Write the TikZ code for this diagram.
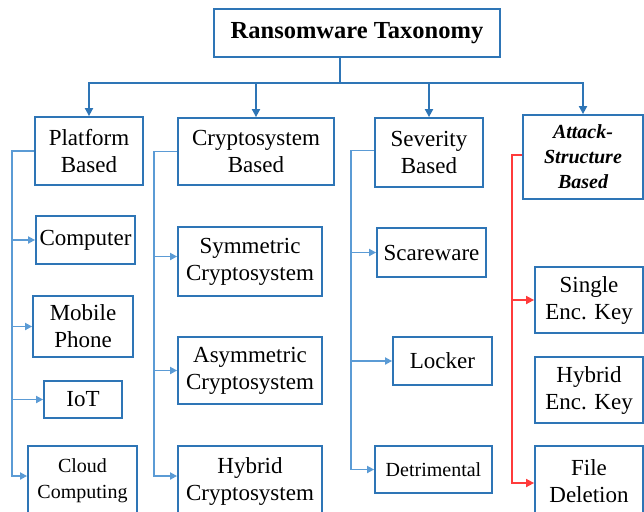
\documentclass[tikz,border=0pt]{standalone}
\usepackage{fontspec}
\setmainfont{Liberation Serif}
\usepackage{xcolor}
\usetikzlibrary{arrows.meta, calc}
\definecolor{boxblue}{HTML}{2E75B6}
\definecolor{lineblue}{HTML}{5B9BD5}
\definecolor{linered}{HTML}{FF3B3B}
\tikzset{
    tbox/.style={draw=boxblue, line width=1.8pt, fill=white, inner sep=0pt, align=center, font=\fontsize{23}{27}\selectfont},
    smalltext/.style={font=\fontsize{20}{26}\selectfont},
    topline/.style={draw=boxblue, line width=1.8pt},
    toparrow/.style={topline, -{Triangle[length=8pt, width=8pt]}},
    subarrow/.style={draw=lineblue, line width=1.7pt, -{Triangle[length=7pt, width=7pt]}},
    redarrow/.style={draw=linered, line width=1.7pt, -{Triangle[length=8pt, width=8pt]}}
}
\newcommand{\taxbox}[6][]{
    \node[tbox, minimum width=#4pt, minimum height=#5pt, #1] (#2) at (#3) {#6};
}

\begin{document}
\begin{tikzpicture}[x=1pt, y=-1pt]
                    \useasboundingbox (0, 0) rectangle (644, 511);
                    % top level
                    \taxbox[font=\fontsize{24.5}{28}\selectfont\bfseries]{title}{357, 33}{286}{48}{Ransomware Taxonomy}
                    \taxbox{platform}{89, 151}{108}{68}{Platform\\Based}
                    \taxbox{crypto}{256, 151.5}{156}{67}{Cryptosystem\\Based}
                    \taxbox{severity}{429, 152.5}{108}{69}{Severity\\Based}
                    \taxbox[font=\fontsize{20}{25}\selectfont\bfseries\itshape]{attack}{583, 157}{120}{84}{Attack-\\Structure\\Based}
                    % platform
                    \taxbox{computer}{85.5, 240}{99}{48}{Computer}
                    \taxbox{mobile}{83, 326.5}{100}{61}{Mobile\\Phone}
                    \taxbox{iot}{83, 399.5}{78}{37}{IoT}
                    \taxbox[smalltext]{cloud}{82.5, 481}{109}{70}{Cloud\\Computing}
                    % cryptosystem
                    \taxbox{symm}{250, 261.5}{144}{69}{Symmetric\\Cryptosystem}
                    \taxbox{asym}{250, 370.5}{144}{67}{Asymmetric\\Cryptosystem}
                    \taxbox{hybridc}{250, 481}{144}{70}{Hybrid\\Cryptosystem}
                    % severity
                    \taxbox{scare}{431.5, 252.5}{109}{49}{Scareware}
                    \taxbox{locker}{442.5, 361}{99}{48}{Locker}
                    \taxbox[smalltext]{detr}{433.5, 469.5}{117}{47}{Detrimental}
                    % attack structure
                    \taxbox{single}{589, 300}{108}{66}{Single\\Enc. Key}
                    \taxbox{hybridk}{589, 390}{108}{66}{Hybrid\\Enc. Key}
                    \taxbox{filedel}{589, 481}{108}{70}{File\\Deletion}
                    \coordinate (bus) at (340, 83);
                    \coordinate (pspine) at (12, 0);
                    \coordinate (cspine) at (154, 0);
                    \coordinate (sspine) at (351, 0);
                    \coordinate (aspine) at (512, 0);
                    \draw[topline] (title.south -| bus) -- (bus);
                    \draw[toparrow] (bus) -| (platform);
                    \draw[toparrow] (bus) -| (crypto);
                    \draw[toparrow] (bus) -| (severity);
                    \draw[toparrow] (bus) -| (attack);
                    \draw[subarrow] (platform.west) -- (platform.west -| pspine) |- (computer.west);
                    \draw[subarrow] (platform.west) -- (platform.west -| pspine) |- (mobile.west);
                    \draw[subarrow] (platform.west) -- (platform.west -| pspine) |- (iot.west);
                    \draw[subarrow] (platform.west) -- (platform.west -| pspine) |- ([yshift=5pt]cloud.west);
                    \draw[subarrow] (crypto.west) -- (crypto.west -| cspine) |- ([yshift=5pt]symm.west);
                    \draw[subarrow] (crypto.west) -- (crypto.west -| cspine) |- (asym.west);
                    \draw[subarrow] (crypto.west) -- (crypto.west -| cspine) |- ([yshift=5pt]hybridc.west);
                    \draw[subarrow] ([yshift=2pt]severity.west) -- ([yshift=2pt]severity.west -| sspine) |- (scare.west);
                    \draw[subarrow] ([yshift=2pt]severity.west) -- ([yshift=2pt]severity.west -| sspine) |- (locker.west);
                    \draw[subarrow] ([yshift=2pt]severity.west) -- ([yshift=2pt]severity.west -| sspine) |- (detr.west);
                    \draw[redarrow] ([yshift=2pt]attack.west) -- ([yshift=2pt]attack.west -| aspine) |- (single.west);
                    \draw[redarrow] ([yshift=2pt]attack.west) -- ([yshift=2pt]attack.west -| aspine) |- ([yshift=-2pt]filedel.west);
\end{tikzpicture}
\end{document}
